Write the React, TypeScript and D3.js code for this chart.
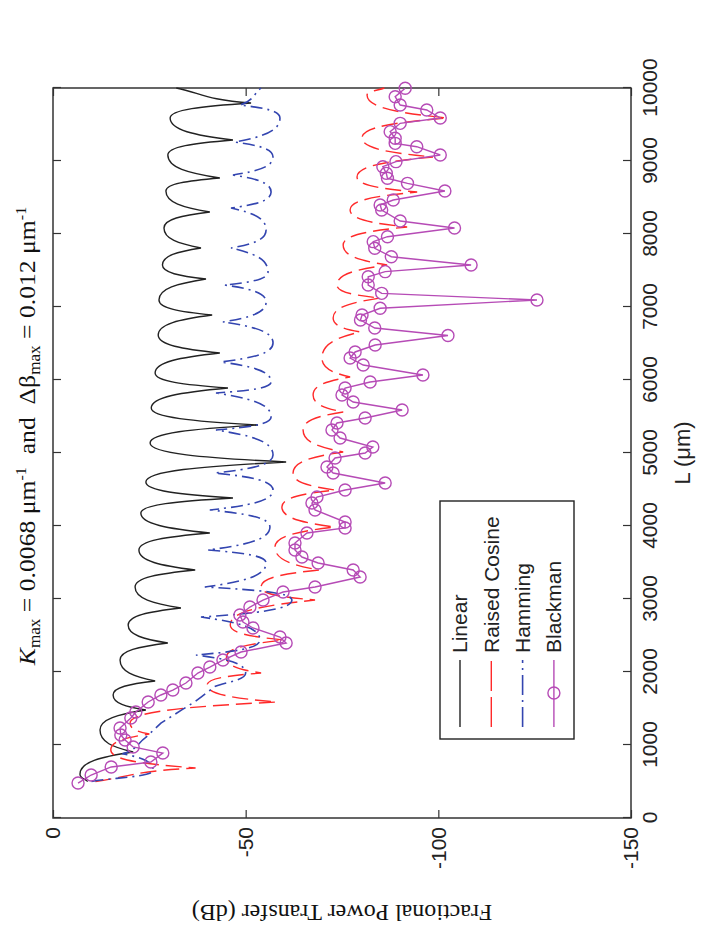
import { useEffect, useRef } from "react"
import * as d3 from "d3"

// axis ticks
const lengthTicks = [0, 1000, 2000, 3000, 4000, 5000, 6000, 7000, 8000, 9000, 10000]
const powerTicks = [0, -50, -100, -150]

// Linear (peaks / troughs)
const linearL = [500, 600, 904, 1205, 1479, 1685, 1877, 2164, 2397, 2644, 2877, 3164, 3397, 3671, 3904, 4178, 4384, 4603, 4877, 5137, 5384, 5616, 5890, 6096, 6370, 6616, 6890, 7096, 7384, 7575, 7808, 8082, 8301, 8589, 8767, 9082, 9288, 9589, 9795, 10000]
const linearDb = [-9, -7, -20.8, -12.2, -24.1, -15.6, -26.5, -17.4, -29.8, -19.5, -33.2, -21.3, -36.9, -22.3, -40.7, -22.8, -46.7, -24.1, -60.5, -25.2, -53.2, -25.5, -45.4, -26.5, -43.3, -27.3, -41.3, -27.5, -39.7, -28.4, -38.4, -28.8, -40.7, -29.3, -43.3, -29.8, -46.7, -30.4, -51.4, -32]

// Raised Cosine
const cosineL = [500, 685, 930, 1150, 1300, 1589, 1822, 1986, 2200, 2438, 2644, 2986, 3164, 3397, 3712, 3986, 4260, 4493, 4726, 5014, 5315, 5562, 5795, 6041, 6301, 6658, 6849, 7123, 7301, 7575, 7849, 8096, 8329, 8575, 8781, 9055, 9315, 9589, 9904, 10000]
const cosineDb = [-11, -37, -15, -25, -20, -58, -40, -54, -45, -60, -46, -68, -54, -69, -57.6, -73, -59.4, -73.2, -62.3, -75.3, -64.9, -75.3, -67.5, -77.1, -69.8, -79.7, -72.7, -84.9, -73.7, -86.7, -75.3, -91.9, -77.1, -94.5, -78.9, -98.6, -80.2, -102.3, -81.5, -86]

// Hamming
const hammingL = [500, 650, 880, 1100, 1300, 1600, 1800, 1986, 2233, 2438, 2753, 2986, 3164, 3493, 3671, 3986, 4219, 4493, 4726, 4973, 5315, 5493, 5822, 5973, 6247, 6507, 6795, 7068, 7301, 7479, 7808, 8055, 8356, 8575, 8808, 9055, 9260, 9589, 9767, 10000]
const hammingDb = [-10, -26, -18, -24, -28, -37, -42, -50, -37.1, -53.7, -38.4, -62, -39.4, -55.3, -40.2, -56.3, -40.7, -57.1, -42, -57.1, -42.3, -56.6, -42.3, -56.6, -43.6, -57.1, -44.1, -55.3, -44.6, -55.8, -46.2, -55.3, -46.2, -56.6, -46.7, -57.1, -47.2, -58.9, -48.5, -54]

// Blackman (marked samples)
const blackmanL = [479, 589, 699, 767, 890, 973, 1068, 1137, 1233, 1370, 1452, 1589, 1685, 1753, 1849, 1986, 2068, 2164, 2274, 2397, 2479, 2603, 2685, 2781, 2890, 2986, 3096, 3164, 3301, 3397, 3493, 3575, 3671, 3767, 3904, 3973, 4055, 4219, 4315, 4397, 4493, 4589, 4726, 4808, 4932, 5000, 5082, 5205, 5315, 5411, 5479, 5589, 5699, 5795, 5890, 5973, 6068, 6205, 6301, 6384, 6479, 6610, 6712, 6822, 6890, 6982, 7096, 7187, 7301, 7415, 7484, 7575, 7689, 7804, 7895, 7963, 8082, 8178, 8329, 8397, 8466, 8589, 8694, 8763, 8831, 8922, 8991, 9082, 9196, 9242, 9311, 9402, 9516, 9589, 9699, 9767, 9881, 9996]
const blackmanDb = [-6.5, -9.9, -15.1, -25.4, -28.5, -20.8, -18.7, -17.6, -17.4, -20.2, -21.5, -24.7, -28, -31.1, -34.5, -37.6, -40.7, -44.1, -48.8, -60.5, -58.9, -51.9, -49.3, -48.5, -51.1, -54.5, -59.7, -68, -79.7, -77.9, -68.8, -64.6, -62.8, -62.8, -65.9, -75.8, -75.8, -68, -67.2, -68.5, -75.8, -86.2, -72.7, -71.1, -73.2, -81, -83, -74.5, -72.4, -73.7, -81, -90.6, -77.9, -75, -75.8, -82.3, -96, -80.5, -77.1, -78.4, -83.6, -102.5, -83.5, -79.8, -80.2, -84.9, -125.6, -85.3, -81.8, -81.8, -86.2, -108.5, -87.8, -83.5, -83.1, -86.8, -104.2, -90.1, -85.3, -84.9, -88.3, -101.7, -92, -86.8, -86.5, -85.6, -89, -100.5, -94.4, -88.8, -88.8, -87.5, -90.1, -100.5, -97, -90.1, -88.8, -91.4]

const legendNames = ["Linear", "Raised Cosine", "Hamming", "Blackman"]

const SANS = "'Liberation Sans', Arial, Helvetica, sans-serif"
const SERIF = "'Liberation Serif', 'Times New Roman', serif"

export default function App() {
  const svgRef = useRef<SVGSVGElement>(null)

  useEffect(() => {
    if (!svgRef.current) return
    const root = d3.select(svgRef.current)
    root.selectAll("*").remove()

    // the figure is drawn unrotated, then turned 90 degrees counter-clockwise
    const innerWidth = 730
    const innerHeight = 578
    const g = root.append("g").attr("transform", "translate(53,818) rotate(-90)")

    const x = d3.scaleLinear().domain([0, 10000]).range([0, innerWidth])
    const y = d3.scaleLinear().domain([0, -150]).range([0, innerHeight])

    const zip = (a: number[], b: number[]) => a.map((v, i) => [v, b[i]] as [number, number])

    // rounded lobes, sharp nulls: each step is one cubic, the control point
    // leaves a null steeply and arrives at a lobe flat
    const lobePath = (pts: [number, number][], sharpAtMin: boolean) => {
      const kind = pts.map((p, i) => {
        if (i === 0 || i === pts.length - 1) return "plain"
        const a = pts[i - 1][1]
        const c = pts[i + 1][1]
        const isMin = p[1] < a && p[1] < c
        const isMax = p[1] > a && p[1] > c
        if (isMin) return sharpAtMin ? "sharp" : "round"
        if (isMax) return sharpAtMin ? "round" : "sharp"
        return "plain"
      })
      const ctrl = (ax: number, ay: number, dx: number, dy: number, k: string) => {
        if (k === "sharp") return [ax + 0.22 * dx, ay + 0.62 * dy]
        if (k === "round") return [ax + 0.55 * dx, ay]
        return [ax + dx / 3, ay + dy / 3]
      }
      const p = d3.path()
      p.moveTo(x(pts[0][0]), y(pts[0][1]))
      for (let i = 1; i < pts.length; i++) {
        const ax = x(pts[i - 1][0])
        const ay = y(pts[i - 1][1])
        const bx = x(pts[i][0])
        const by = y(pts[i][1])
        const [c1x, c1y] = ctrl(ax, ay, bx - ax, by - ay, kind[i - 1])
        const [c2x, c2y] = ctrl(bx, by, ax - bx, ay - by, kind[i])
        p.bezierCurveTo(c1x, c1y, c2x, c2y, bx, by)
      }
      return p.toString()
    }

    const plainFormat = (d: d3.NumberValue) => String(d)

    // axes, ticks pointing inwards on all four sides
    const bottom = g
      .append("g")
      .attr("transform", `translate(0,${innerHeight})`)
      .call(
        d3.axisBottom(x).tickValues(lengthTicks).tickFormat(plainFormat).tickSizeInner(-8).tickSizeOuter(0).tickPadding(11),
      )
    const left = g
      .append("g")
      .call(d3.axisLeft(y).tickValues(powerTicks).tickFormat(plainFormat).tickSizeInner(-8).tickSizeOuter(0).tickPadding(9))
    g.append("g").call(d3.axisTop(x).tickValues(lengthTicks).tickSizeInner(-8).tickSizeOuter(0).tickFormat(() => ""))
    g.append("g")
      .attr("transform", `translate(${innerWidth},0)`)
      .call(d3.axisRight(y).tickValues(powerTicks).tickSizeInner(-8).tickSizeOuter(0).tickFormat(() => ""))

    g.selectAll(".domain").remove()
    g.selectAll(".tick line").attr("stroke", "#333").attr("stroke-width", 1.2)
    for (const ax of [bottom, left]) {
      ax.selectAll("text").attr("fill", "#222").attr("font-family", SANS).attr("font-size", 21)
    }

    g.append("rect")
      .attr("width", innerWidth)
      .attr("height", innerHeight)
      .attr("fill", "none")
      .attr("stroke", "#333")
      .attr("stroke-width", 1.5)

    // curves
    g.append("path")
      .attr("d", lobePath(zip(linearL, linearDb), true))
      .attr("fill", "none")
      .attr("stroke", "#222")
      .attr("stroke-width", 1.4)

    g.append("path")
      .attr("d", lobePath(zip(cosineL, cosineDb), true))
      .attr("fill", "none")
      .attr("stroke", "#ff2a2a")
      .attr("stroke-width", 1.4)
      .attr("stroke-dasharray", "16,7")

    g.append("path")
      .attr("d", lobePath(zip(hammingL, hammingDb), false))
      .attr("fill", "none")
      .attr("stroke", "#3345b0")
      .attr("stroke-width", 1.6)
      .attr("stroke-dasharray", "12,5,2,5")

    const blackman = zip(blackmanL, blackmanDb)
    g.append("path")
      .datum(blackman)
      .attr(
        "d",
        d3
          .line<[number, number]>()
          .x((d) => x(d[0]))
          .y((d) => y(d[1])),
      )
      .attr("fill", "none")
      .attr("stroke", "#b64bb6")
      .attr("stroke-width", 1.4)

    g.append("g")
      .selectAll("circle")
      .data(blackman)
      .enter()
      .append("circle")
      .attr("cx", (d) => x(d[0]))
      .attr("cy", (d) => y(d[1]))
      .attr("r", 6)
      .attr("fill", "none")
      .attr("stroke", "#b64bb6")
      .attr("stroke-width", 1.4)

    // legend
    const legend = g.append("g").attr("transform", "translate(79,387)")
    legend
      .append("rect")
      .attr("width", 238)
      .attr("height", 134)
      .attr("fill", "white")
      .attr("stroke", "#222")
      .attr("stroke-width", 1.4)
    const styles = [
      { color: "#222", dash: null, w: 1.4 },
      { color: "#ff2a2a", dash: "30,6", w: 1.4 },
      { color: "#3345b0", dash: "20,5,2,5", w: 1.6 },
      { color: "#b64bb6", dash: null, w: 1.4 },
    ]
    legendNames.forEach((name, i) => {
      const row = legend.append("g").attr("transform", `translate(0,${20 + i * 31.3})`)
      row
        .append("line")
        .attr("x1", 12)
        .attr("x2", 79)
        .attr("stroke", styles[i].color)
        .attr("stroke-width", styles[i].w)
        .attr("stroke-dasharray", styles[i].dash)
      if (name === "Blackman") {
        row
          .append("circle")
          .attr("cx", 46)
          .attr("r", 6)
          .attr("fill", "none")
          .attr("stroke", styles[i].color)
          .attr("stroke-width", 1.4)
      }
      row
        .append("text")
        .attr("x", 86)
        .attr("dy", "0.35em")
        .attr("font-family", SANS)
        .attr("font-size", 21)
        .attr("fill", "#222")
        .text(name)
    })

    // axis labels
    g.append("text")
      .attr("x", innerWidth / 2)
      .attr("y", 637)
      .attr("text-anchor", "middle")
      .attr("font-family", SANS)
      .attr("font-size", 22)
      .attr("fill", "#222")
      .text("L (μm)")

    g.append("text")
      .attr("transform", `translate(-87,${innerHeight / 2}) rotate(-90)`)
      .attr("text-anchor", "middle")
      .attr("font-family", SERIF)
      .attr("font-size", 24)
      .attr("fill", "#111")
      .text("Fractional Power Transfer (dB)")

    // title
    const title = g
      .append("g")
      .attr("transform", "translate(382,-18) scale(1.07,1)")
      .append("text")
      .attr("text-anchor", "middle")
      .attr("font-family", SERIF)
      .attr("font-size", 24)
      .attr("fill", "#111")
      .style("white-space", "pre")
    title.append("tspan").attr("font-style", "italic").text("K")
    title.append("tspan").attr("dy", 5).attr("font-size", 16).text("max")
    title.append("tspan").attr("dy", -5).text(" = 0.0068 μm")
    title.append("tspan").attr("dy", -9).attr("font-size", 15).text("-1")
    title.append("tspan").attr("dy", 9).text("  and  Δβ")
    title.append("tspan").attr("dy", 5).attr("font-size", 16).text("max")
    title.append("tspan").attr("dy", -5).text(" = 0.012 μm")
    title.append("tspan").attr("dy", -9).attr("font-size", 15).text("-1")
  }, [])

  return (
    <svg
      ref={svgRef}
      width={706}
      height={942}
      style={{ position: "absolute", left: 0, top: 0, background: "white" }}
    />
  )
}
